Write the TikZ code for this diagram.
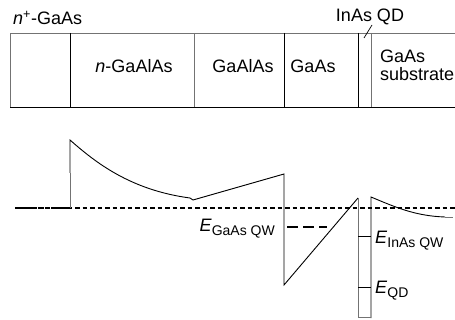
\documentclass[tikz,border=0pt]{standalone}
\usepackage{fontspec}
\setmainfont{Liberation Sans}
\newcommand\levelsub[1]{\raisebox{-3.5pt}{\fontsize{14}{16}\selectfont #1}}
\begin{document}
\begin{tikzpicture}[x=1pt,y=-1pt,
  lbl/.style={inner sep=0pt,font=\fontsize{18}{21}\selectfont},
  thin line/.style={line width=0.9pt,black},
  soft line/.style={line width=0.9pt,black!55},
  fermi/.style={line width=1.3pt,dash pattern=on 4.5pt off 3pt},
  level/.style={line width=2.4pt,dash pattern=on 11pt off 5pt}]
\useasboundingbox (0,0) rectangle (455,320);

% layer stack
\draw[soft line] (455,33) -- (10,33) -- (10,107);
\draw[thin line] (10,107) -- (455,107);
\draw[thin line] (70,33) -- (70,107);
\draw[soft line] (194,33) -- (194,107);
\draw[thin line] (284,33) -- (284,107);
\draw[thin line] (358,33) -- (358,107);
\draw[soft line] (371,33) -- (371,107);

\node[lbl,anchor=base west] (cap) at (13,25) {\textit{n}\textsuperscript{+}-GaAs};
\node[lbl,anchor=base] (ngaalas) at (134,73) {\textit{n}-GaAlAs};
\node[lbl,anchor=base] (gaalas) at (243,73) {GaAlAs};
\node[lbl,anchor=base] (gaas) at (313,73) {GaAs};
\node[lbl,anchor=base west] (sub1) at (380,63) {GaAs};
\node[lbl,anchor=base west] (sub2) at (380,81) {substrate};
\node[lbl,anchor=base] (qd) at (370,22) {InAs QD};
\coordinate (qdtip) at (364,38);
\draw[line width=0.7pt] (qdtip) -- (372,25);

% Fermi level
\draw[fermi] (15,208) -- (455,208);
\draw[line width=2.4pt,dash pattern=on 5pt off 1.2pt] (20,208) -- (70,208);

% conduction band profile
\draw[soft line] (70,208) -- (70,173);
\draw[thin line] (70,173) -- (70,140)
  .. controls (95,162) and (130,190) .. (190,198)
  -- (193,200) -- (284,174) -- (284,285) -- (358,198);
\draw[soft line] (358,198) -- (358,318);
\draw[thin line] (371,318) -- (371,197)
  .. controls (395,207) and (415,216) .. (445,217);
\draw[soft line] (445,217) -- (453,217);

% confined levels
\draw[level] (287,227) -- (327,227);
\draw[thin line] (358,236) -- (371,236);
\draw[thin line] (358,287) -- (371,287);
\draw[soft line] (358,317) -- (371,317);

\node[lbl,anchor=base east] (egaas) at (275,232) {\textit{E}\levelsub{GaAs QW}};
\node[lbl,anchor=base west] (einas) at (375,244) {\textit{E}\levelsub{InAs QW}};
\node[lbl,anchor=base west] (eqd) at (375,294) {\textit{E}\levelsub{QD}};
\end{tikzpicture}
\end{document}
